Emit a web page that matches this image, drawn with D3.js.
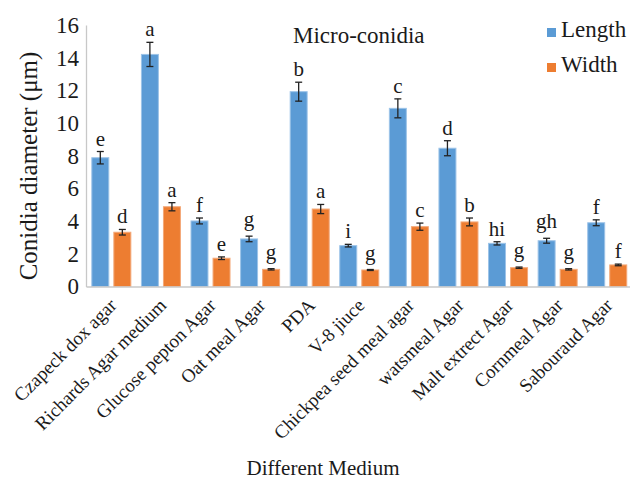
<!DOCTYPE html>
<html>
<head>
<meta charset="utf-8">
<script src="https://cdn.jsdelivr.net/npm/d3@7/dist/d3.min.js"></script>
<style>
  html, body { margin: 0; padding: 0; background: #fff; }
  svg text { font-family: "Liberation Serif", "DejaVu Serif", "Noto Serif", "Times New Roman", Times, serif !important; fill: #1a1a1a; }
</style>
</head>
<body>
<svg id="chart" width="630" height="484"></svg>
<script>
const categories = ["Czapeck dox agar", "Richards Agar medium", "Glucose pepton Agar", "Oat meal Agar", "PDA", "V-8 jiuce", "Chickpea seed meal agar", "watsmeal Agar", "Malt extrect Agar", "Cornmeal Agar", "Sabouraud Agar"];
const seriesNames = ["Length", "Width"];
const lengthValues = [7.88, 14.2, 4.01, 2.91, 11.92, 2.5, 10.9, 8.46, 2.64, 2.8, 3.9];
const widthValues = [3.32, 4.88, 1.73, 1.05, 4.74, 1.01, 3.66, 3.95, 1.15, 1.05, 1.32];
const lengthErrors = [0.38, 0.74, 0.18, 0.17, 0.58, 0.08, 0.58, 0.46, 0.1, 0.15, 0.18];
const widthErrors = [0.17, 0.25, 0.08, 0.04, 0.28, 0.03, 0.22, 0.24, 0.04, 0.04, 0.05];
const lengthLetters = ["e", "a", "f", "g", "b", "i", "c", "d", "hi", "gh", "f"];
const widthLetters = ["d", "a", "e", "g", "a", "g", "c", "b", "g", "g", "f"];
const yTicks = [0, 2, 4, 6, 8, 10, 12, 14, 16];
const colors = { Length: "#5B9BD5", Width: "#ED7D31" };
const strokes = { Length: "#9cc3e8", Width: "#f3a878" };

const series = [
  { name: "Length", values: lengthValues, errors: lengthErrors, letters: lengthLetters },
  { name: "Width", values: widthValues, errors: widthErrors, letters: widthLetters }
];

const FONT = "Liberation Serif";
const svg = d3.select("#chart");
const plotLeft = 86, plotRight = 631.5, plotTop = 25, plotBottom = 286.5;

const x = d3.scaleBand().domain(categories).range([plotLeft, plotRight]).paddingInner(0).paddingOuter(0);
const xs = d3.scaleBand().domain(seriesNames).range([0, x.bandwidth()]).paddingInner(0.23).paddingOuter(0.24).align(0.55);
const y = d3.scaleLinear().domain([0, 16]).range([plotBottom, plotTop]);

// y axis
const yAxis = d3.axisLeft(y).tickValues(yTicks).tickSize(0).tickPadding(7).tickFormat(d3.format("d"));
const gy = svg.append("g").attr("transform", `translate(${plotLeft},0)`).call(yAxis);
gy.attr("font-family", FONT);
gy.select(".domain").attr("stroke", "#c8c8c8").attr("stroke-width", 1.3);
gy.selectAll("text").attr("font-size", 23).attr("fill", "#1a1a1a");

// bars
const groups = svg.append("g").selectAll("g").data(series).join("g");
groups.each(function(s) {
  const g = d3.select(this);
  const data = categories.map((c, i) => ({ c, v: s.values[i], e: s.errors[i], l: s.letters[i] }));
  g.selectAll("rect").data(data).join("rect")
    .attr("x", d => x(d.c) + xs(s.name))
    .attr("y", d => y(d.v))
    .attr("width", xs.bandwidth())
    .attr("height", d => y(0) - y(d.v))
    .attr("fill", colors[s.name])
    .attr("stroke", strokes[s.name])
    .attr("stroke-width", 1);
  const cx = d => x(d.c) + xs(s.name) + xs.bandwidth() / 2;
  const eg = g.append("g").attr("stroke", "#222").attr("stroke-width", 1.3);
  eg.selectAll("line.v").data(data).join("line").attr("class", "v")
    .attr("x1", cx).attr("x2", cx).attr("y1", d => y(d.v + d.e)).attr("y2", d => y(d.v - d.e));
  eg.selectAll("line.t").data(data).join("line").attr("class", "t")
    .attr("x1", d => cx(d) - 3.5).attr("x2", d => cx(d) + 3.5).attr("y1", d => y(d.v + d.e)).attr("y2", d => y(d.v + d.e));
  eg.selectAll("line.b").data(data).join("line").attr("class", "b")
    .attr("x1", d => cx(d) - 3.5).attr("x2", d => cx(d) + 3.5).attr("y1", d => y(d.v - d.e)).attr("y2", d => y(d.v - d.e));
  g.selectAll("text").data(data).join("text")
    .attr("x", cx)
    .attr("y", d => y(d.v + d.e) - (/[g]/.test(d.l) ? 10 : 6))
    .attr("text-anchor", "middle")
    .attr("font-family", FONT)
    .attr("font-size", 21)
    .text(d => d.l);
});

// x axis
const xAxis = d3.axisBottom(x).tickSize(0).tickFormat(d => d);
const gx = svg.append("g").attr("transform", `translate(0,${plotBottom})`).call(xAxis);
gx.attr("font-family", FONT);
gx.select(".domain").attr("stroke", "#c8c8c8").attr("stroke-width", 1.3);
gx.selectAll("text")
  .attr("font-size", 19)
  .attr("fill", "#1a1a1a")
  .attr("text-anchor", "end")
  .attr("dy", null)
  .attr("y", 0)
  .attr("transform", "translate(7,20) rotate(-45)");

// title
svg.append("text").attr("x", 293).attr("y", 43).attr("font-family", FONT).attr("font-size", 23).text("Micro-conidia");

// y title
svg.append("text")
  .attr("transform", `translate(37,166) rotate(-90)`)
  .attr("text-anchor", "middle")
  .attr("font-family", FONT)
  .attr("font-size", 25)
  .text("Conidia diameter (μm)");

// x title
svg.append("text").attr("x", 323).attr("y", 475).attr("text-anchor", "middle").attr("font-family", FONT).attr("font-size", 21).text("Different Medium");

// legend
const leg = svg.append("g").selectAll("g").data(seriesNames).join("g")
  .attr("transform", (d, i) => `translate(547,${28 + i * 35})`);
leg.append("rect").attr("width", 9).attr("height", 9).attr("fill", d => colors[d]);
leg.append("text").attr("x", 14).attr("y", 9).attr("font-family", FONT).attr("font-size", 23).text(d => d);
</script>
</body>
</html>
